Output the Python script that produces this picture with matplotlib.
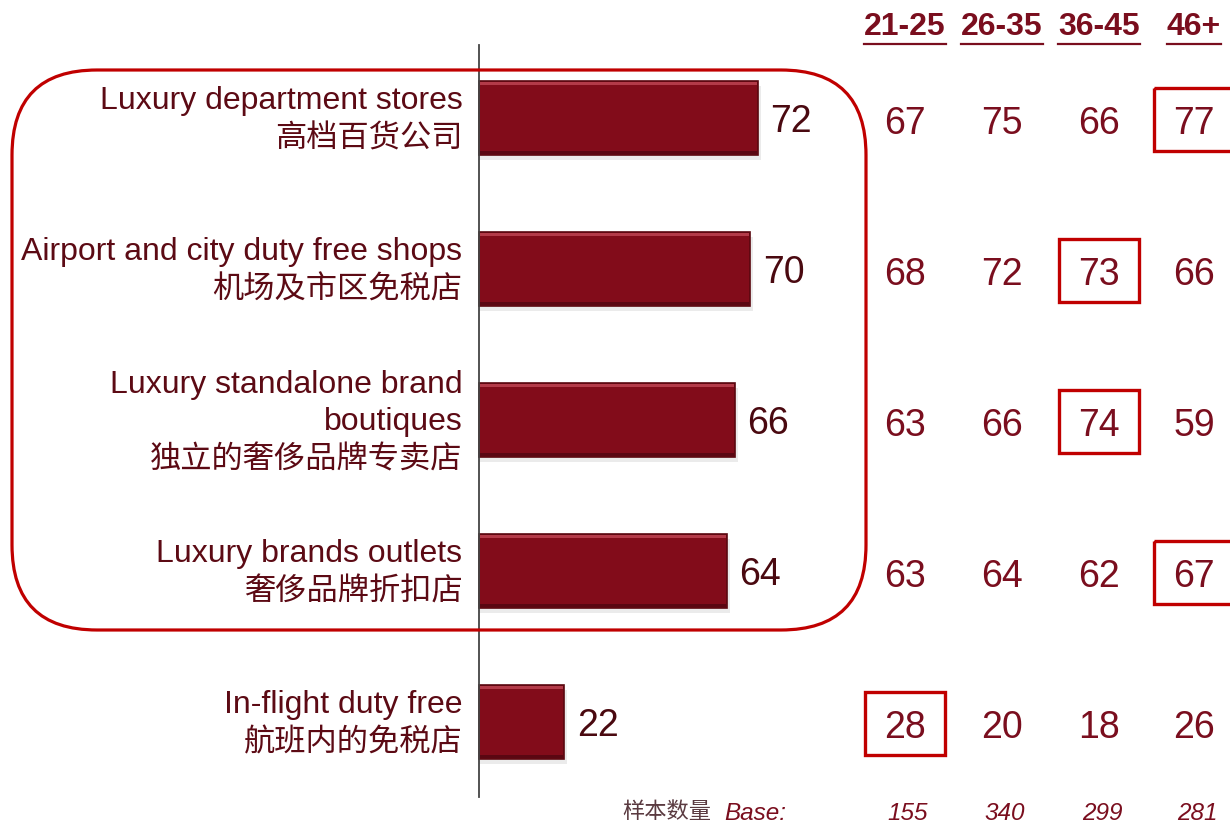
import matplotlib
matplotlib.use("Agg")
import matplotlib.pyplot as plt
from matplotlib.patches import FancyBboxPatch, Rectangle
from matplotlib.transforms import blended_transform_factory

# data
labels_en = ["Luxury department stores", "Airport and city duty free shops",
             "Luxury standalone brand\nboutiques", "Luxury brands outlets",
             "In-flight duty free"]
labels_cn = ["高档百货公司", "机场及市区免税店", "独立的奢侈品牌专卖店",
             "奢侈品牌折扣店", "航班内的免税店"]
totals = [72, 70, 66, 64, 22]
age_groups = ["21-25", "26-35", "36-45", "46+"]
age_21_25 = [67, 68, 63, 63, 28]
age_26_35 = [75, 72, 66, 64, 20]
age_36_45 = [66, 73, 74, 62, 18]
age_46_plus = [77, 66, 59, 67, 26]
highlight = [3, 2, 2, 3, 0]   # which age column is boxed for each row
bases = [155, 340, 299, 281]

DARK = "#820c1a"
TXT = "#5c0a14"
NUM = "#7a0e1e"
RED = "#c00000"
EN = ["Liberation Sans", "DejaVu Sans"]
CN = ["Noto Sans CJK SC", "DejaVu Sans"]

W, H = 1230, 823
fig = plt.figure(figsize=(W / 100, H / 100), dpi=100)
ax = fig.add_axes([0, 0, 1, 1])
ax.set_xlim(-479 / 3.875, (W - 479) / 3.875)
ax.set_ylim((H - 118) / 151, -118 / 151)
ax.axis("off")

rows = list(range(len(totals)))

# soft shadow, bar, bevel highlights
ax.barh([r + 0.035 for r in rows], [t + 0.8 for t in totals], height=0.49,
        color="#000000", alpha=0.08, zorder=1)
ax.barh(rows, totals, height=0.49, color=DARK, edgecolor="#5a0810",
        linewidth=1.2, zorder=2)
ax.barh([r - 0.228 for r in rows], [t - 0.4 for t in totals], left=0.2,
        height=0.022, color="#c8505e", alpha=0.7, linewidth=0, zorder=3)
ax.barh([r + 0.228 for r in rows], [t - 0.4 for t in totals], left=0.2,
        height=0.02, color="#500610", alpha=0.8, linewidth=0, zorder=3)

ax.axvline(0, ymin=1 - 797 / H, ymax=1 - 45 / H, color="#444444", lw=1.3, zorder=4)

for r, t in zip(rows, totals):
    ax.annotate(str(t), (t, r), xytext=(9, -3), textcoords="offset points",
                ha="left", va="center", fontsize=27, color="#4a0910", family=EN)
    en_lines = labels_en[r].split("\n")
    n = len(en_lines) + 1
    offs = [13.5 * (n - 1) - 27 * k - 1.5 for k in range(n)]
    for k, line in enumerate(en_lines):
        ax.annotate(line, (0, r), xytext=(-12, offs[k]), textcoords="offset points",
                    ha="right", va="center", fontsize=23, color=TXT, family=EN)
    ax.annotate(labels_cn[r], (0, r), xytext=(-12, offs[-1]), textcoords="offset points",
                ha="right", va="center", fontsize=22.5, color=TXT, family=CN,
                fontweight="light")

# age breakdown columns
col_x = [905 / W, 1002 / W, 1099 / W, 1194 / W]
cols = [age_21_25, age_26_35, age_36_45, age_46_plus]
ftr = fig.transFigure
blend = blended_transform_factory(ftr, ax.transData)
for c, (cx, vals) in enumerate(zip(col_x, cols)):
    for r, v in enumerate(vals):
        ax.annotate(str(v), (cx, r), xycoords=blend, xytext=(0, -4),
                    textcoords="offset points", ha="center", va="center",
                    fontsize=27, color=NUM, family=EN)
        if highlight[r] == c:
            bw, bh = 80 / W, 63 / 151
            ax.add_patch(Rectangle((cx - bw / 2, r - bh / 2 + 0.01), bw, bh,
                                   transform=blend, fill=False, edgecolor=RED,
                                   lw=2.4, zorder=5, clip_on=False))
    t = fig.text(cx, 1 - 27 / H, age_groups[c], ha="center", va="center",
                 fontsize=23, fontweight="bold", color=NUM, family=EN)
    fig.canvas.draw()
    bb = t.get_window_extent().transformed(ftr.inverted())
    fig.add_artist(plt.Line2D([bb.x0, bb.x1], [1 - 44 / H] * 2, transform=ftr,
                              color=NUM, lw=1.6))
    fig.text(cx + 3 / W, 1 - 813 / H, str(bases[c]), ha="center", va="center",
             fontsize=17.5, style="italic", color=NUM, family=EN)

fig.text(622 / W, 1 - 811 / H, "样本数量", ha="left", va="center", fontsize=16,
         color="#5a3a40", family=CN, fontweight="light")
fig.text(724 / W, 1 - 813 / H, "Base:", ha="left", va="center", fontsize=17.5,
         style="italic", color=NUM, family=EN)

# rounded outline around the first four channels
box = FancyBboxPatch((12 / W, 1 - 630 / H), 854 / W, 560 / H,
                     boxstyle="round,pad=0,rounding_size=%f" % (85 / W),
                     mutation_aspect=W / H, transform=ftr, fill=False,
                     edgecolor=RED, lw=2.3)
fig.add_artist(box)

fig.savefig("out.png", dpi=100)
